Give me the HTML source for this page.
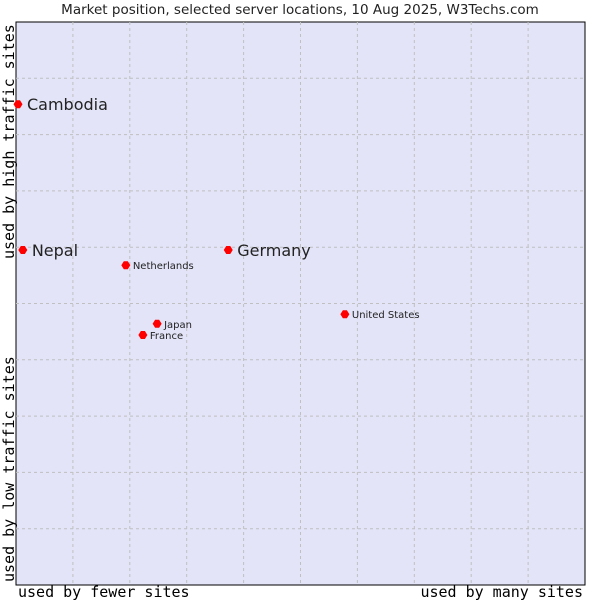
<!DOCTYPE html>
<html><head><meta charset="utf-8"><style>
body{margin:0;background:#fff;width:600px;height:600px;overflow:hidden}
svg text{font-family:"DejaVu Sans","Liberation Sans",sans-serif}
</style></head><body>
<svg id="c" width="600" height="600" xmlns="http://www.w3.org/2000/svg">
<text x="300" y="14" text-anchor="middle" font-size="13.5" fill="#222">Market position, selected server locations, 10 Aug 2025, W3Techs.com</text>
<rect x="16" y="22" width="569" height="563" fill="#e3e4f8" stroke="#000" stroke-width="1"/>
<g id="grid"></g>
<g id="pts"></g>
<text x="18" y="597" font-size="15" fill="#000" style="font-family:'DejaVu Sans Mono',monospace">used by fewer sites</text>
<text x="583" y="597" text-anchor="end" font-size="15" fill="#000" style="font-family:'DejaVu Sans Mono',monospace">used by many sites</text>
<text transform="translate(14,582) rotate(-90)" font-size="15" fill="#000" style="font-family:'DejaVu Sans Mono',monospace">used by low traffic sites</text>
<text transform="translate(14,259) rotate(-90)" font-size="15" fill="#000" style="font-family:'DejaVu Sans Mono',monospace">used by high traffic sites</text>
</svg>
<script>
const names=["Cambodia","Nepal","Germany","Netherlands","United States","Japan","France"];
const xs=[0.35,1.2,37.3,19.3,57.8,24.8,22.3];
const ys=[85.4,59.5,59.5,56.8,48.1,46.4,44.4];
const big=[true,true,true,false,false,false,false];
const NS="http://www.w3.org/2000/svg";
const X0=16,W=569,Y0=22,H=563;
const sx=v=>X0+v/100*W, sy=v=>Y0+H-v/100*H;
const g=document.getElementById('grid');
for(let i=1;i<10;i++){
 const v=document.createElementNS(NS,'line');
 const x=X0+i*W/10;
 v.setAttribute('x1',x);v.setAttribute('x2',x);v.setAttribute('y1',Y0);v.setAttribute('y2',Y0+H);
 v.setAttribute('stroke','#c0c0c0');v.setAttribute('stroke-dasharray','3,3');
 
 
 g.appendChild(v);
 const h=document.createElementNS(NS,'line');
 const y=Y0+i*H/10;
 h.setAttribute('x1',X0);h.setAttribute('x2',X0+W);h.setAttribute('y1',y);h.setAttribute('y2',y);
 h.setAttribute('stroke','#c0c0c0');h.setAttribute('stroke-dasharray','3,3');
 
 
 g.appendChild(h);
}
const p=document.getElementById('pts');
names.forEach((n,i)=>{
 const x=sx(xs[i]),y=sy(ys[i]);
 const d=document.createElementNS(NS,'path');
 d.setAttribute('d',`M${x-4.5},${y}L${x-2},${y-4}L${x+2},${y-4}L${x+4.5},${y}L${x+2},${y+4}L${x-2},${y+4}Z`);
 d.setAttribute('fill','#f00');
 
 
 p.appendChild(d);
 const t=document.createElementNS(NS,'text');
 t.setAttribute('x',x+(big[i]?9:7));t.setAttribute('y',y+(big[i]?6:4));
 t.setAttribute('font-size',big[i]?16:10);t.setAttribute('fill','#222');
 t.textContent=n;
 
 
 p.appendChild(t);
});
</script>
</body></html>
